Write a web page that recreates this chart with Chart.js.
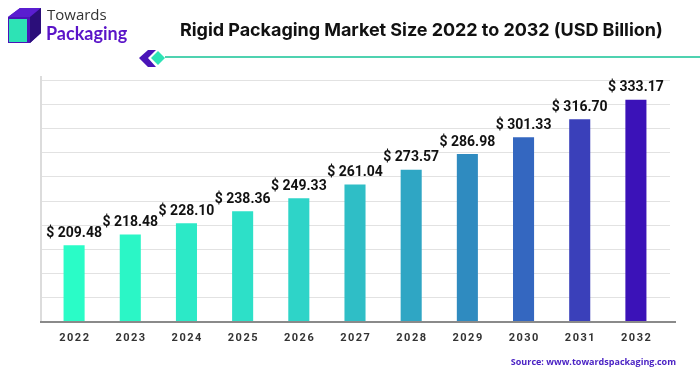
<!DOCTYPE html>
<html>
<head>
<meta charset="utf-8">
<script src="https://cdn.jsdelivr.net/npm/chart.js@4"></script>
<style>
  html, body { margin: 0; padding: 0; background: #fff; }
  #wrap { position: relative; width: 700px; height: 376px; overflow: hidden; font-family: Roboto, "Liberation Sans", sans-serif; }
  #chartBox { position: absolute; left: 0; top: 0; width: 700px; height: 376px; }
  .title { position: absolute; left: 180px; top: 19px; font: bold 18px Inter, Roboto, sans-serif; color: #111; white-space: nowrap; letter-spacing: -0.05px; }
  .logo1 { position: absolute; left: 47px; top: 4px; font: 15px "Open Sans", sans-serif; color: #333; }
  .logo2 { position: absolute; left: 46px; top: 22px; font: bold 18px Lato, "Open Sans", sans-serif; color: #5a14c8; }
  .source { position: absolute; right: 24px; top: 355px; font: bold 9px "Open Sans", sans-serif; color: #4a22c4; }
</style>
</head>
<body>
<div id="wrap">
  <div id="chartBox"><canvas id="rigidChart" width="700" height="376"></canvas></div>
  <svg style="position:absolute;left:0;top:0" width="700" height="70">
    <polygon points="8,17 20,8 41,8 41,33 30,43 8,43" fill="#4a14b8"/>
    <polygon points="8,17 20,8 41,8 30,17" fill="#5a1ed0"/>
    <polygon points="30,17 41,8 41,33 30,43" fill="#2b0e7a"/>
    <rect x="9" y="19" width="18" height="23" fill="#2de3b5"/>
    <line x1="165" y1="57" x2="700" y2="57" stroke="#4fd2b0" stroke-width="2"/>
    <polygon points="148,50 156,50 148,58 156,67 148,67 139,58" fill="#4a14b8"/>
    <polygon points="158,51 165,58 158,65 151,58" fill="#2de3b5"/>
  </svg>
  <div class="logo1">Towards</div>
  <div class="logo2">Packaging</div>
  <div class="title">Rigid Packaging Market Size 2022 to 2032 (USD Billion)</div>
  <div class="source">Source: www.towardspackaging.com</div>
</div>
<script>
(function () {
    'use strict';

    const years = ["2022", "2023", "2024", "2025", "2026", "2027", "2028", "2029", "2030", "2031", "2032"];
    const marketSize = [209.48, 218.48, 228.10, 238.36, 249.33, 261.04, 273.57, 286.98, 301.33, 316.70, 333.17];
    const barColors = ["#2afcc7", "#2bf6c6", "#2ce9c7", "#2de0c8", "#2ed4c8", "#2fbec6", "#2fa6c4", "#2f8bc0", "#3467c0", "#3a40ba", "#3b12b8"];
    const gridValues = [145, 165.5, 186, 206.5, 227, 247.5, 268, 288.5, 309, 329.5, 350];

    // grille + axes dessinés un peu plus large que la zone des barres
    const frame = {
        id: "frame",
        beforeDatasetsDraw(chart) {
            const { ctx, scales: { y } } = chart;
            ctx.save();
            ctx.strokeStyle = "#e2e2e2";
            ctx.lineWidth = 1;
            gridValues.slice(1).forEach(v => {
                const py = Math.round(y.getPixelForValue(v)) + 0.5;
                ctx.beginPath();
                ctx.moveTo(42, py);
                ctx.lineTo(670, py);
                ctx.stroke();
            });
            ctx.strokeStyle = "#dcdcdc";
            ctx.lineWidth = 2;
            ctx.beginPath();
            ctx.moveTo(41, 76);
            ctx.lineTo(41, y.bottom);
            ctx.stroke();
            ctx.restore();
        },
        afterDatasetsDraw(chart) {
            const { ctx, scales: { x, y } } = chart;
            ctx.save();
            ctx.strokeStyle = "#8a8a8a";
            ctx.lineWidth = 2;
            ctx.beginPath();
            ctx.moveTo(40, y.bottom + 1);
            ctx.lineTo(676, y.bottom + 1);
            ctx.stroke();

            // étiquettes de valeur au-dessus des barres
            ctx.fillStyle = "#111";
            ctx.font = "bold 14px Roboto, sans-serif";
            ctx.textAlign = "center";
            ctx.textBaseline = "bottom";
            chart.getDatasetMeta(0).data.forEach((bar, i) => {
                ctx.fillText("$ " + marketSize[i].toFixed(2), bar.x, bar.y - 5);
            });

            // années, avec espacement des lettres
            ctx.fillStyle = "#333";
            ctx.font = "bold 11px Roboto, sans-serif";
            ctx.letterSpacing = "1.5px";
            ctx.textBaseline = "middle";
            years.forEach((yr, i) => {
                ctx.fillText(yr, x.getPixelForValue(i) + 0.75, y.bottom + 17);
            });
            ctx.restore();
        }
    };

    new Chart(document.getElementById("rigidChart"), {
        type: "bar",
        data: {
            labels: years,
            datasets: [{
                data: marketSize,
                backgroundColor: barColors,
                barPercentage: 0.375,
                categoryPercentage: 1
            }]
        },
        options: {
            responsive: false,
            animation: false,
            layout: { padding: { left: 46, right: 36, top: 80, bottom: 55 } },
            plugins: { legend: { display: false }, tooltip: { enabled: false } },
            scales: {
                x: { display: false },
                y: {
                    min: gridValues[0],
                    max: gridValues[gridValues.length - 1],
                    display: false
                }
            }
        },
        plugins: [frame]
    });
})();
</script>
</body>
</html>
